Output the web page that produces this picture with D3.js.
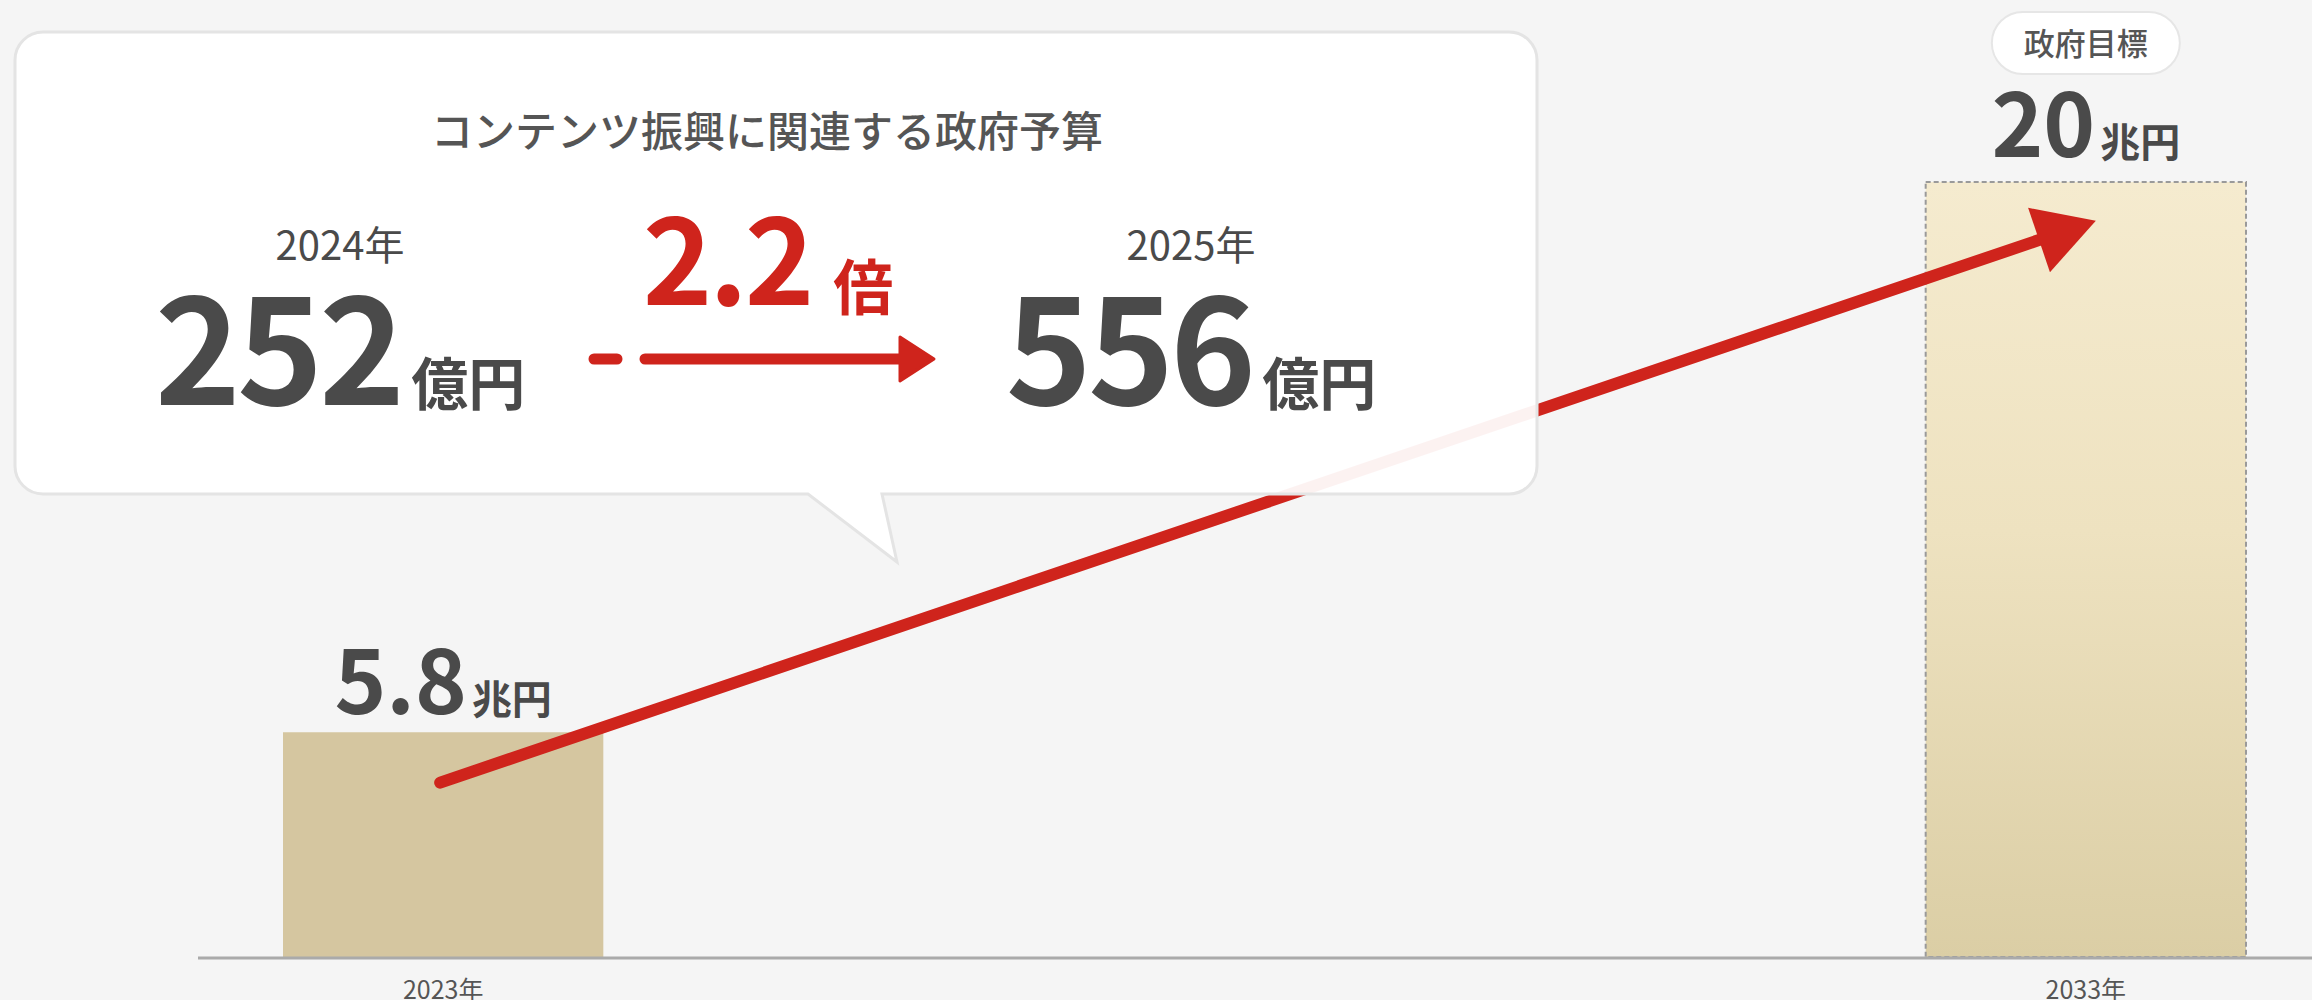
<!DOCTYPE html>
<html lang="ja">
<head>
<meta charset="utf-8">
<title>コンテンツ産業</title>
<script src="https://d3js.org/d3.v7.min.js"></script>
<style>
  body { margin: 0; background: #f5f5f5; }
  svg { display: block; font-family: "Noto Sans CJK JP", "Noto Sans", sans-serif; }
</style>
</head>
<body>
<div id="chart"></div>
<script>
// market size (trillion yen)
var years = ["2023年", "2033年"];
var marketValues = [5.8, 20];
var marketUnit = "兆円";
var targetLabel = "政府目標";
// red arrow runs between these two values
var arrowValues = [4.5, 19.0];

// government budget callout
var budgetTitle = "コンテンツ振興に関連する政府予算";
var budgetYears = ["2024年", "2025年"];
var budgetValues = [252, 556];
var budgetUnit = "億円";
var budgetRatio = "2.2";
var ratioUnit = "倍";

var W = 2312, H = 1000;
var red = "#cf241c", dark = "#4a4a4a";

var svg = d3.select("#chart").append("svg")
    .attr("width", W).attr("height", H);

var defs = svg.append("defs");
var grad = defs.append("linearGradient").attr("id", "goal")
    .attr("x1", 0).attr("y1", 0).attr("x2", 0).attr("y2", 1);
grad.append("stop").attr("offset", "0%").attr("stop-color", "#f5ebcf");
grad.append("stop").attr("offset", "45%").attr("stop-color", "#eee2c0");
grad.append("stop").attr("offset", "100%").attr("stop-color", "#dbcea5");

var x = d3.scaleBand().domain(years).range([283, 2246])
    .paddingInner(0.805).paddingOuter(0);
var y = d3.scaleLinear().domain([0, 20]).range([957, 182]);

// bars
svg.selectAll("rect.bar")
  .data(years)
  .enter().append("rect")
    .attr("class", "bar")
    .attr("x", d => x(d))
    .attr("y", (d, i) => y(marketValues[i]))
    .attr("width", x.bandwidth())
    .attr("height", (d, i) => y(0) - y(marketValues[i]))
    .attr("fill", (d, i) => i == 0 ? "#d5c6a0" : "url(#goal)")
    .attr("stroke", (d, i) => i == 0 ? "none" : "#9a9a9a")
    .attr("stroke-width", 2)
    .attr("stroke-dasharray", "5,3");

// baseline + labels
svg.append("line")
    .attr("x1", 198).attr("x2", W)
    .attr("y1", y(0) + 1).attr("y2", y(0) + 1)
    .attr("stroke", "#aaa").attr("stroke-width", 3);

var ax = svg.append("g")
    .attr("transform", "translate(0," + y(0) + ")")
    .call(d3.axisBottom(x).tickSize(0).tickPadding(24));
ax.select(".domain").remove();
ax.selectAll("text")
    .style("font-family", "'Noto Sans CJK JP', sans-serif")
    .style("font-size", "25px")
    .attr("fill", "#555");

// value labels over bars
var vl = svg.selectAll("text.val")
  .data(years)
  .enter().append("text")
    .attr("class", "val")
    .attr("x", d => x(d) + x.bandwidth() / 2)
    .attr("y", (d, i) => y(marketValues[i]) - (i == 0 ? 18 : 25))
    .attr("text-anchor", "middle")
    .attr("fill", dark)
    .style("font-weight", 700);
vl.append("tspan").style("font-size", "88px").text((d, i) => marketValues[i]);
vl.append("tspan").attr("dx", 5).style("font-size", "40px").text(marketUnit);

// target pill
var pill = svg.append("g")
    .attr("transform", "translate(" + (x(years[1]) + x.bandwidth() / 2) + ",43)");
pill.append("rect")
    .attr("x", -94).attr("y", -31).attr("width", 188).attr("height", 62)
    .attr("rx", 31)
    .attr("fill", "#fff").attr("stroke", "#e6e6e6").attr("stroke-width", 2);
pill.append("text")
    .attr("text-anchor", "middle").attr("y", 12)
    .attr("fill", "#555").style("font-size", "31px").style("font-weight", 500)
    .text(targetLabel);

// big red arrow
var ax0 = x(years[0]) + x.bandwidth() / 2 - 3, ay0 = y(arrowValues[0]);
var ax1 = x(years[1]) + x.bandwidth() / 2 + 10, ay1 = y(arrowValues[1]);
var ang = Math.atan2(ay1 - ay0, ax1 - ax0);
var headL = 60, headW = 34;
var bx = ax1 - headL * Math.cos(ang), by = ay1 - headL * Math.sin(ang);
svg.append("line")
    .attr("x1", ax0).attr("y1", ay0).attr("x2", bx + 5 * Math.cos(ang)).attr("y2", by + 5 * Math.sin(ang))
    .attr("stroke", red).attr("stroke-width", 12).attr("stroke-linecap", "round");
svg.append("path")
    .attr("d", d3.line()([
      [ax1, ay1],
      [bx - headW * Math.sin(ang), by + headW * Math.cos(ang)],
      [bx + headW * Math.sin(ang), by - headW * Math.cos(ang)]
    ]) + "Z")
    .attr("fill", red);

// callout box with tail
var bL = 15, bT = 32, bR = 1537, bB = 494, r = 28;
var tail = [808, 882, 897, 562];
var p = d3.path();
p.moveTo(bL + r, bT);
p.lineTo(bR - r, bT);
p.arcTo(bR, bT, bR, bT + r, r);
p.lineTo(bR, bB - r);
p.arcTo(bR, bB, bR - r, bB, r);
p.lineTo(tail[1], bB);
p.lineTo(tail[2], tail[3]);
p.lineTo(tail[0], bB);
p.lineTo(bL + r, bB);
p.arcTo(bL, bB, bL, bB - r, r);
p.lineTo(bL, bT + r);
p.arcTo(bL, bT, bL + r, bT, r);
p.closePath();
svg.append("path")
    .attr("d", p.toString())
    .attr("fill", "#fff").attr("fill-opacity", 0.94)
    .attr("stroke", "#e4e4e4").attr("stroke-width", 3);

var box = svg.append("g");
box.append("text")
    .attr("x", 767).attr("y", 147)
    .attr("text-anchor", "middle")
    .attr("fill", "#555")
    .style("font-size", "42px").style("font-weight", 500)
    .text(budgetTitle);

var colX = [340, 1191];
box.selectAll("text.by")
  .data(budgetYears)
  .enter().append("text")
    .attr("class", "by")
    .attr("x", (d, i) => colX[i]).attr("y", 260)
    .attr("text-anchor", "middle")
    .attr("fill", dark)
    .style("font-size", "40px")
    .text(d => d);

var bv = box.selectAll("text.bv")
  .data(budgetValues)
  .enter().append("text")
    .attr("class", "bv")
    .attr("x", (d, i) => colX[i]).attr("y", 405)
    .attr("text-anchor", "middle")
    .attr("fill", dark)
    .style("font-weight", 700);
bv.append("tspan").style("font-size", "146px").style("letter-spacing", "-4px").text(d => d);
bv.append("tspan").attr("dx", 10).style("font-size", "57px").text(budgetUnit);

// ratio
var rt = box.append("text")
    .attr("x", 768).attr("y", 305)
    .attr("text-anchor", "middle")
    .attr("fill", red).style("font-weight", 700);
rt.append("tspan").style("font-size", "118px").style("letter-spacing", "-3px").text(budgetRatio);
rt.append("tspan").attr("dx", 22).attr("dy", 5).style("font-size", "60px").text(ratioUnit);

// small arrow 2024 -> 2025
box.append("line")
    .attr("x1", 594).attr("x2", 617).attr("y1", 359).attr("y2", 359)
    .attr("stroke", red).attr("stroke-width", 11).attr("stroke-linecap", "round");
box.append("line")
    .attr("x1", 645).attr("x2", 905).attr("y1", 359).attr("y2", 359)
    .attr("stroke", red).attr("stroke-width", 11).attr("stroke-linecap", "round");
box.append("path")
    .attr("d", "M900,337L934,359L900,381Z")
    .attr("fill", red).attr("stroke", red).attr("stroke-width", 3)
    .attr("stroke-linejoin", "round");
</script>
</body>
</html>
